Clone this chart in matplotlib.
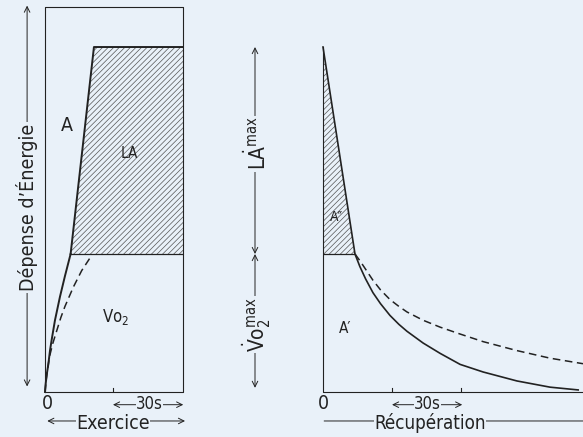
import numpy as np
import matplotlib.pyplot as plt

# Data (time in s, energy in units of VO2max)
VO2_MAX = 1.0
LA_TOP = 2.5
BOX_TOP = 2.79
EX_END = 60.9
REC_END = 113.0

ex_solid_t = [0, 0.3, 0.8, 1.46, 2.2, 2.96, 4.4, 6.6, 8.8, 11.3]
ex_solid_e = [0, 0.06, 0.13, 0.2, 0.3, 0.38, 0.52, 0.69, 0.84, 1.0]
ex_top_t = [11.3, 21.6, EX_END]
ex_top_e = [1.0, 2.5, 2.5]
ex_dash_t = [0, 0.6, 1.9, 3.4, 5.1, 7.0, 8.8, 12.5, 16.2, 20.6]
ex_dash_e = [0, 0.1, 0.25, 0.35, 0.44, 0.54, 0.62, 0.76, 0.88, 0.99]

rec_solid_t = [0, 13.9, 16.0, 18.5, 21.7, 25.0, 29.1, 33.0, 36.5, 43.5, 50.9, 59.6, 69.6, 84.3, 98.7, 110.9]
rec_solid_e = [2.5, 1.0, 0.91, 0.82, 0.72, 0.64, 0.555, 0.49, 0.44, 0.355, 0.28, 0.2, 0.145, 0.08, 0.035, 0.015]
rec_dash_t = [13.9, 16.1, 18.5, 21.7, 25.0, 29.1, 33.0, 36.5, 43.5, 50.9, 59.6, 69.6, 84.3, 98.7, REC_END]
rec_dash_e = [1.0, 0.95, 0.89, 0.81, 0.74, 0.67, 0.62, 0.58, 0.52, 0.47, 0.42, 0.365, 0.3, 0.245, 0.205]

BG = "#e9f1f9"
INK = "#222222"

plt.rcParams["font.family"] = ["DejaVu Sans"]
plt.rcParams["font.stretch"] = "condensed"
plt.rcParams["mathtext.fontset"] = "custom"
plt.rcParams["mathtext.rm"] = "DejaVu Sans:stretch=condensed"
plt.rcParams["mathtext.it"] = "DejaVu Sans:stretch=condensed"
plt.rcParams["hatch.linewidth"] = 0.5
plt.rcParams["hatch.color"] = "#555555"

fig = plt.figure(figsize=(5.83, 4.37), dpi=100, facecolor=BG)
H = 437.0
W = 583.0

def place(left_px, right_px):
    return [left_px / W, (H - 392) / H, (right_px - left_px) / W, 385 / H]

ax1 = fig.add_axes(place(45, 183))
ax2 = fig.add_axes(place(323, 583))
for ax in (ax1, ax2):
    ax.set_ylim(0, BOX_TOP)
    ax.axis("off")
    ax.patch.set_alpha(0)
ax1.set_xlim(0, EX_END)
ax2.set_xlim(0, REC_END)

label_box = dict(boxstyle="square,pad=0.0", fc=BG, ec="none")
arrow = dict(arrowstyle="<->", color=INK, lw=0.7, shrinkA=0, shrinkB=0)

# rows under the panels (data units, 138 px per unit)
ROW_30 = -0.092       # arrow line of the 30s row
BASE_30 = -0.122      # baseline of "30s"
ROW_NAME = -0.21      # arrow line of Exercice / Récupération
BASE_NAME = -0.265    # baseline of those names

# ---- Exercise panel
ax1.plot([0, 0, EX_END, EX_END, 0], [0, BOX_TOP, BOX_TOP, 0, 0], color=INK, lw=0.8, clip_on=False)
ax1.fill([11.3, 21.6, EX_END, EX_END], [1.0, 2.5, 2.5, 1.0],
         facecolor="none", edgecolor="#555555", hatch="//////", lw=0)
ax1.plot([11.3, EX_END], [1.0, 1.0], color=INK, lw=0.9)
ax1.plot(ex_solid_t, ex_solid_e, color=INK, lw=1.4, clip_on=False)
ax1.plot(ex_top_t, ex_top_e, color=INK, lw=1.4, clip_on=False)
ax1.plot(ex_dash_t, ex_dash_e, color=INK, lw=1.1, ls=(0, (5, 3)), clip_on=False)
ax1.plot([30, 30], [0, 0.03], color=INK, lw=0.8)

ax1.text(9.5, 1.93, "A", fontsize=14, ha="center", va="center", color=INK)
ax1.text(37, 1.73, "LA", fontsize=11, ha="center", va="center", color=INK)
ax1.text(31, 0.54, r"Vo$_2$", fontsize=12, ha="center", va="center", color=INK)

ax1.annotate("", xy=(-7.9, 0.04), xytext=(-7.9, 2.8), arrowprops=arrow, annotation_clip=False)
ax1.text(-7.9, 1.34, "Dépense d\u2019Énergie", rotation=90, fontsize=14, ha="center", va="center",
         color=INK, bbox=dict(boxstyle="square,pad=0.1", fc=BG, ec="none"))

ax1.text(1, BASE_30, "0", fontsize=14, ha="center", va="baseline", color=INK)
ax1.annotate("", xy=(30, ROW_30), xytext=(61, ROW_30), arrowprops=arrow, annotation_clip=False)
ax1.text(46, BASE_30, "30s", fontsize=12, ha="center", va="baseline", color=INK, bbox=label_box)
ax1.annotate("", xy=(1, ROW_NAME), xytext=(61.8, ROW_NAME), arrowprops=arrow, annotation_clip=False)
ax1.text(30, BASE_NAME, "Exercice", fontsize=14, ha="center", va="baseline", color=INK, bbox=label_box)

# ---- middle scale
mid_x = (255 - 45) / 138 * EX_END
ax1.annotate("", xy=(mid_x, 1.0), xytext=(mid_x, 2.5), arrowprops=arrow, annotation_clip=False)
ax1.annotate("", xy=(mid_x, 1.0), xytext=(mid_x, 0.03), arrowprops=arrow, annotation_clip=False)
ax1.text(mid_x + 0.5, 1.8, r"L$\dot{\mathrm{A}}^{\mathrm{max}}$", rotation=90, fontsize=15,
         ha="center", va="center", color=INK, bbox=dict(boxstyle="square,pad=0.05", fc=BG, ec="none"))
ax1.text(mid_x + 0.5, 0.49, r"$\dot{\mathrm{V}}\mathrm{o}_2^{\mathrm{max}}$", rotation=90,
         fontsize=15, ha="center", va="center", color=INK,
         bbox=dict(boxstyle="square,pad=0.05", fc=BG, ec="none"))

# ---- Recovery panel
ax2.fill([0, 0, 13.9], [1.0, 2.5, 1.0], facecolor="none", edgecolor="#555555", hatch="//////", lw=0)
ax2.plot([0, 0, REC_END], [2.5, 0, 0], color=INK, lw=0.8, clip_on=False)
ax2.plot([0, 13.9], [1.0, 1.0], color=INK, lw=0.9)
ax2.plot(rec_solid_t, rec_solid_e, color=INK, lw=1.2, clip_on=False)
ax2.plot(rec_dash_t, rec_dash_e, color=INK, lw=1.1, ls=(0, (5, 3)), clip_on=False)
for t in (30, 60):
    ax2.plot([t, t], [0, 0.03], color=INK, lw=0.8)

ax2.text(5.7, 1.27, "A\u2033", fontsize=10, ha="center", va="center", color=INK)
ax2.text(9.5, 0.46, "A\u2032", fontsize=11, ha="center", va="center", color=INK)

ax2.text(0, BASE_30, "0", fontsize=14, ha="center", va="baseline", color=INK)
ax2.annotate("", xy=(30, ROW_30), xytext=(60.5, ROW_30), arrowprops=arrow, annotation_clip=False)
ax2.text(45.5, BASE_30, "30s", fontsize=12, ha="center", va="baseline", color=INK, bbox=label_box)
ax2.annotate("", xy=(0.5, ROW_NAME), xytext=(120, ROW_NAME),
             arrowprops=dict(arrowstyle="<-", color=INK, lw=0.7, shrinkA=0, shrinkB=0),
             annotation_clip=False)
ax2.text(46.5, BASE_NAME, "Récupération", fontsize=13.5, ha="center", va="baseline", color=INK,
         bbox=label_box)

plt.savefig("out.png", dpi=100, facecolor=BG)
